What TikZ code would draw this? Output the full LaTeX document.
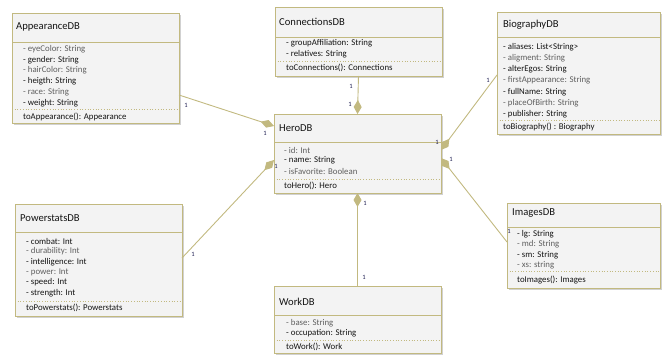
\documentclass[tikz,border=0pt]{standalone}
\usepackage{fontspec}
\setmainfont{Carlito}
\usetikzlibrary{arrows.meta,shadows}

\definecolor{umlborder}{RGB}{194,185,128}
\definecolor{umlfill}{RGB}{243,243,243}
\definecolor{umltext}{RGB}{20,20,20}
\definecolor{umlsoft}{RGB}{95,95,95}
\definecolor{umlmult}{RGB}{35,35,85}

\tikzset{
  classbox/.style={draw=umlborder, line width=0.9pt, fill=umlfill, rectangle,
    inner sep=0pt, outer sep=0pt, anchor=north west,
    drop shadow={shadow xshift=1.5pt, shadow yshift=-2pt, opacity=0.3, fill=black!60}},
  headline/.style={draw=umlborder, line width=0.9pt},
  methline/.style={draw=umlborder, line width=0.7pt, dotted},
  classtitle/.style={anchor=west, inner sep=0pt, text=umltext, font=\fontsize{10.6}{12}\selectfont},
  member/.style={anchor=west, inner sep=0pt, font=\fontsize{8.8}{10}\selectfont},
  assoc/.style={draw=umlborder, line width=0.9pt,
    -{Diamond[length=14pt,width=8pt,fill=umlborder]}},
  mult/.style={inner sep=0pt, text=umlmult, font=\fontsize{6.5}{7}\selectfont},
  k/.style={text=umltext},
  g/.style={text=umlsoft}
}

\begin{document}
\begin{tikzpicture}[x=1pt,y=-1pt]
\useasboundingbox (0,0) rectangle (662,356);

% ---------- AppearanceDB ----------
\node[classbox, minimum width=167pt, minimum height=110pt] (app) at (12,13) {};
\draw[headline] (12,42) -- (179,42);
\draw[methline] (12,109) -- (179,109);
\node[classtitle] (app-t) at (16,27) {AppearanceDB};
\foreach \c/\t [count=\i from 0] in {g/- eyeColor: String, k/- gender: String,
    g/- hairColor: String, k/- heigth: String, g/- race: String, k/- weight: String}
  \node[member,\c] (app-a\i) at (23,49+10.8*\i) {\t};
\node[member,k] (app-m) at (23,117) {toAppearance(): Appearance};

% ---------- ConnectionsDB ----------
\node[classbox, minimum width=167pt, minimum height=69pt] (conn) at (275,7) {};
\draw[headline] (275,37) -- (442,37);
\draw[methline] (275,61) -- (442,61);
\node[classtitle] (conn-t) at (279,22) {ConnectionsDB};
\foreach \c/\t [count=\i from 0] in {k/- groupAffiliation: String, k/- relatives: String}
  \node[member,\c] (conn-a\i) at (286,43+10.8*\i) {\t};
\node[member,k] (conn-m) at (286,68) {toConnections(): Connections};

% ---------- BiographyDB ----------
\node[classbox, minimum width=163pt, minimum height=122pt] (bio) at (497,12) {};
\draw[headline] (497,37) -- (660,37);
\draw[methline] (497,120) -- (660,120);
\node[classtitle] (bio-t) at (503,25) {BiographyDB};
\foreach \c/\t [count=\i from 0] in {k/- aliases: List<String>, g/- aligment: String,
    k/- alterEgos: String, g/- firstAppearance: String, k/- fullName: String,
    g/- placeOfBirth: String, k/- publisher: String}
  \node[member,\c] (bio-a\i) at (503,47+11.2*\i) {\t};
\node[member,k] (bio-m) at (503,127) {toBiography() : Biography};

% ---------- HeroDB ----------
\node[classbox, minimum width=167pt, minimum height=79pt] (hero) at (274,114) {};
\draw[headline] (274,142) -- (441,142);
\draw[methline] (274,179) -- (441,179);
\node[classtitle] (hero-t) at (279,128) {HeroDB};
\foreach \c/\t [count=\i from 0] in {g/- id: Int, k/- name: String, g/- isFavorite: Boolean}
  \node[member,\c] (hero-a\i) at (284,150+10.6*\i) {\t};
\node[member,k] (hero-m) at (284,186) {toHero(): Hero};

% ---------- PowerstatsDB ----------
\node[classbox, minimum width=167pt, minimum height=112pt] (pow) at (15,204) {};
\draw[headline] (15,232) -- (182,232);
\draw[methline] (15,301) -- (182,301);
\node[classtitle] (pow-t) at (20,218) {PowerstatsDB};
\foreach \c/\t [count=\i from 0] in {k/- combat: Int, g/- durability: Int,
    k/- intelligence: Int, g/- power: Int, k/- speed: Int, k/- strength: Int}
  \node[member,\c] (pow-a\i) at (26,241+10.4*\i) {\t};
\node[member,k] (pow-m) at (26,308) {toPowerstats(): Powerstats};

% ---------- ImagesDB ----------
\node[classbox, minimum width=153pt, minimum height=85pt] (img) at (507,203) {};
\draw[headline] (507,227) -- (660,227);
\draw[methline] (507,271) -- (660,271);
\node[classtitle] (img-t) at (512,213) {ImagesDB};
\foreach \c/\t [count=\i from 0] in {k/- lg: String, g/- md: String, k/- sm: String, g/- xs: string}
  \node[member,\c] (img-a\i) at (517,234+10.5*\i) {\t};
\node[member,k] (img-m) at (517,280) {toImages(): Images};

% ---------- WorkDB ----------
\node[classbox, minimum width=167pt, minimum height=67pt] (work) at (274,286) {};
\draw[headline] (274,315) -- (441,315);
\draw[methline] (274,340) -- (441,340);
\node[classtitle] (work-t) at (279,302) {WorkDB};
\foreach \c/\t [count=\i from 0] in {g/- base: String, k/- occupation: String}
  \node[member,\c] (work-a\i) at (286,323+10.4*\i) {\t};
\node[member,k] (work-m) at (286,347) {toWork(): Work};

% ---------- compositions into HeroDB ----------
\draw[assoc] ([yshift=28pt]app.south east) -- ([yshift=-12pt]hero.north west);
\draw[assoc] (conn.south) -- (hero.north);
\draw[assoc] ([yshift=-54pt]pow.north east) -- ([yshift=-46pt]hero.north west);
\draw[assoc] ([yshift=-63pt]bio.north west) -- ([yshift=-36pt]hero.north east);
\draw[assoc] ([yshift=-39pt]img.north west) -- ([yshift=-44pt]hero.north east);
\draw[assoc] (work.north) -- (hero.south);

% ---------- multiplicities ----------
\node[mult] (m-app1) at (186,105) {1};
\node[mult] (m-app2) at (265,133) {1};
\node[mult] (m-conn1) at (351,86) {1};
\node[mult] (m-conn2) at (350,104) {1};
\node[mult] (m-pow1) at (193,254) {1};
\node[mult] (m-pow2) at (276,166) {1};
\node[mult] (m-bio1) at (488,80) {1};
\node[mult] (m-bio2) at (437,142) {1};
\node[mult] (m-img1) at (451,159) {1};
\node[mult] (m-img2) at (509,231) {1};
\node[mult] (m-work1) at (365,203) {1};
\node[mult] (m-work2) at (364,277) {1};
\end{tikzpicture}
\end{document}
